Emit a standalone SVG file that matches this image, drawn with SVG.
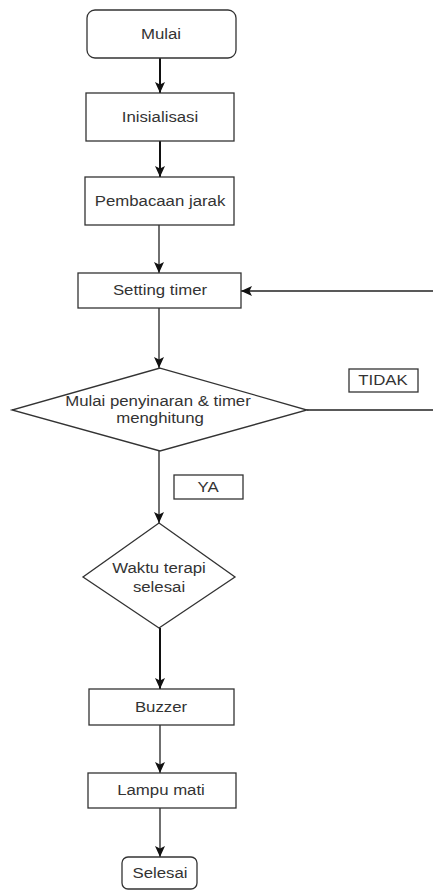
<svg xmlns="http://www.w3.org/2000/svg" width="433" height="891" viewBox="0 0 433 891">
<style>
.box{fill:#fff;stroke:#333;stroke-width:1.3}
.t{font-family:"Liberation Sans",Arial,sans-serif;font-size:15px;fill:#333;text-anchor:middle;dominant-baseline:central}
.c{fill:none;stroke:#222;stroke-width:1.3}
.c2{fill:none;stroke:#111;stroke-width:2}
</style>
<defs>
<marker id="ah" markerUnits="userSpaceOnUse" markerWidth="12" markerHeight="12" viewBox="0 0 12 12" refX="11" refY="6" orient="auto">
<path d="M0,1 L11,6 L0,11 L2.5,6 Z" fill="#111"/>
</marker>
</defs>
<rect width="433" height="891" fill="#fff"/>
<g id="connectors">
<line class="c2" x1="160" y1="58" x2="160" y2="93" marker-end="url(#ah)"/>
<line class="c2" x1="160" y1="141" x2="160" y2="177" marker-end="url(#ah)"/>
<line class="c" x1="159" y1="225" x2="159" y2="273" marker-end="url(#ah)"/>
<line class="c" x1="433" y1="291" x2="241" y2="291" marker-end="url(#ah)"/>
<line class="c" x1="159" y1="308" x2="159" y2="368" marker-end="url(#ah)"/>
<line class="c" x1="307" y1="410" x2="433" y2="410"/>
<line class="c" x1="159" y1="451" x2="159" y2="523" marker-end="url(#ah)"/>
<line class="c2" x1="160" y1="628" x2="160" y2="689" marker-end="url(#ah)"/>
<line class="c" x1="160" y1="725" x2="160" y2="773" marker-end="url(#ah)"/>
<line class="c" x1="160" y1="808" x2="160" y2="857" marker-end="url(#ah)"/>
</g>
<g id="mulai"><rect class="box" x="87" y="10" width="149" height="48" rx="8"/><text class="t" transform="translate(161,34) scale(1.12,1)">Mulai</text></g>
<g id="inisialisasi"><rect class="box" x="86" y="93" width="148" height="48"/><text class="t" transform="translate(160,117) scale(1.12,1)">Inisialisasi</text></g>
<g id="pembacaan"><rect class="box" x="85" y="177" width="149" height="48"/><text class="t" transform="translate(160,201) scale(1.12,1)">Pembacaan jarak</text></g>
<g id="setting"><rect class="box" x="78" y="273" width="163" height="35"/><text class="t" transform="translate(160,290) scale(1.12,1)">Setting timer</text></g>
<g id="decision1"><polygon class="box" points="160,368 307,410 160,451 12,410"/><text class="t" transform="translate(158,401) scale(1.12,1)">Mulai penyinaran &amp; timer</text><text class="t" transform="translate(160,418) scale(1.12,1)">menghitung</text></g>
<g id="tidak"><rect class="box" x="349" y="369" width="69" height="23"/><text class="t" transform="translate(383,380) scale(1.12,1)">TIDAK</text></g>
<g id="ya"><rect class="box" x="174" y="475" width="69" height="24"/><text class="t" transform="translate(208,487) scale(1.12,1)">YA</text></g>
<g id="decision2"><polygon class="box" points="159,523 235,577 159,628 83,577"/><text class="t" transform="translate(159,568) scale(1.12,1)">Waktu terapi</text><text class="t" transform="translate(159,587) scale(1.12,1)">selesai</text></g>
<g id="buzzer"><rect class="box" x="89" y="689" width="145" height="36"/><text class="t" transform="translate(161,707) scale(1.12,1)">Buzzer</text></g>
<g id="lampu"><rect class="box" x="88" y="773" width="148" height="35"/><text class="t" transform="translate(161,790) scale(1.12,1)">Lampu mati</text></g>
<g id="selesai"><rect class="box" x="122" y="857" width="75" height="32" rx="6"/><text class="t" transform="translate(160,873) scale(1.12,1)">Selesai</text></g>
</svg>
